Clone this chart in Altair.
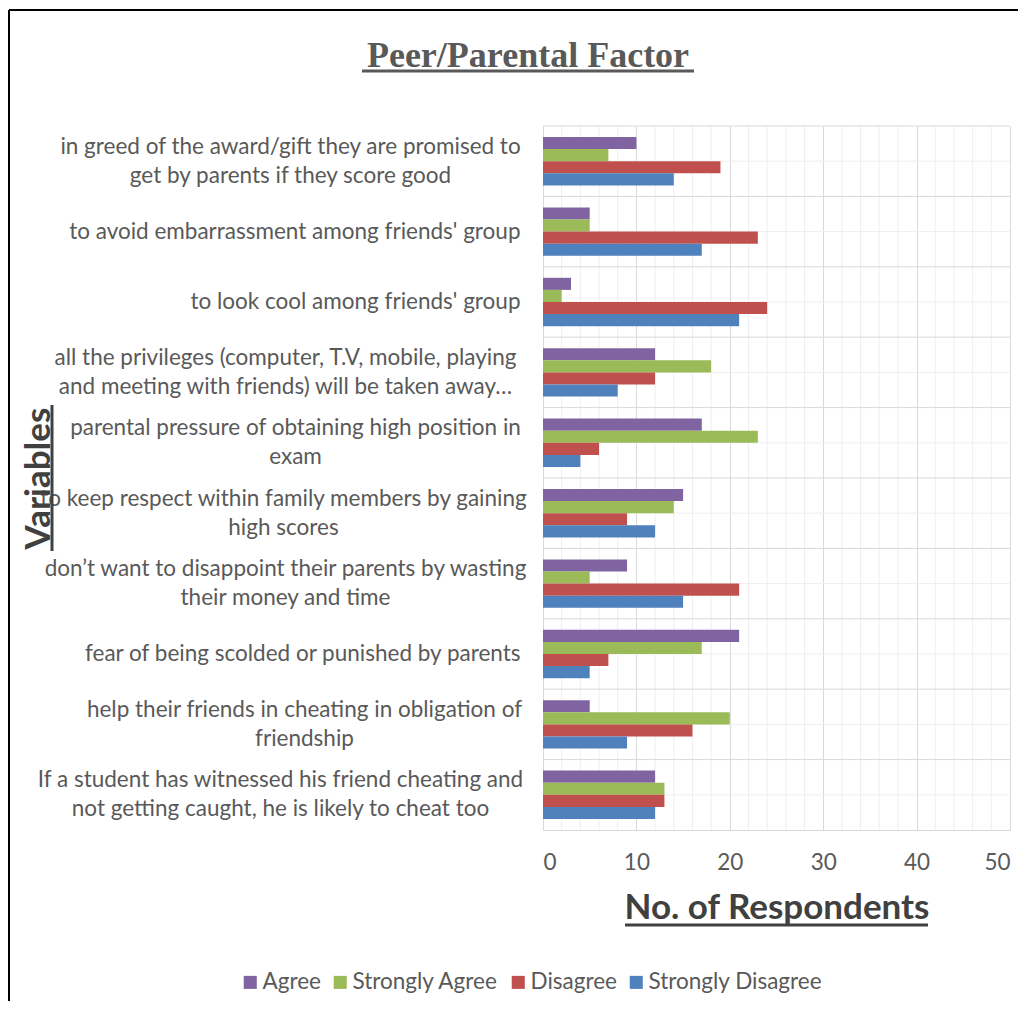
import altair as alt
import pandas as pd

categories = [
    "in greed of the award/gift they are promised to|get by parents if they score good",
    "to avoid embarrassment among friends' group",
    "to look cool among friends' group",
    "all the privileges (computer, T.V, mobile, playing|and meeting with friends) will be taken away…",
    "parental pressure of obtaining high position in|exam",
    "to keep respect within family members by gaining|high scores",
    "don’t want to disappoint their parents by wasting|their money  and time",
    "fear of being scolded or punished by parents",
    "help their friends in cheating in obligation of|friendship",
    "If a student has witnessed his friend cheating and|not getting caught, he is likely to cheat too",
]
series = ["Agree", "Strongly Agree", "Disagree", "Strongly Disagree"]
agree = [10, 5, 3, 12, 17, 15, 9, 21, 5, 12]
strongly_agree = [7, 5, 2, 18, 23, 14, 5, 17, 20, 13]
disagree = [19, 23, 24, 12, 6, 9, 21, 7, 16, 13]
strongly_disagree = [14, 17, 21, 8, 4, 12, 15, 5, 9, 12]
colors = ["#8064A2", "#9BBB59", "#C0504D", "#4F81BD"]
x_ticks = [0, 10, 20, 30, 40, 50]
minor_ticks = [2, 4, 6, 8, 12, 14, 16, 18, 22, 24, 26, 28, 32, 34, 36, 38, 42, 44, 46, 48]

rows = []
for i, c in enumerate(categories):
    for s, vals in zip(series, [agree, strongly_agree, disagree, strongly_disagree]):
        rows.append({"category": c, "series": s, "value": vals[i]})
df = pd.DataFrame(rows)
cat_df = pd.DataFrame({"category": categories})
minor_df = pd.DataFrame({"v": minor_ticks})
one_df = pd.DataFrame({"k": [0]})

FONT = "Lato"
LABEL_SIZE = 22.5
LABEL_COLOR = "#595959"
TITLE_COLOR = "#404040"
MULTI = "indexof(datum.value, '|') >= 0"

# horizontal offsets for the centred two-line labels
pad_conditions = [
    {"test": f"datum.value === {c!r}", "value": p}
    for c, p in zip(
        [categories[0], categories[3], categories[4], categories[5], categories[6], categories[8], categories[9]],
        [253, 258, 248, 260, 258, 239, 263],
    )
]

y_scale = alt.Scale(domain=categories, paddingInner=0, paddingOuter=0)
x_scale = alt.Scale(domain=[0, 50], nice=False, zero=True)

y_axis = alt.Axis(
    title="Variables",
    titleFont=FONT, titleFontSize=35, titleFontWeight="bold", titleColor=TITLE_COLOR,
    titleAngle=270, titleX=-494, titleY=352, titleAlign="center", titleBaseline="alphabetic",
    labelExpr="split(datum.label, '|')",
    labelFont=FONT, labelFontSize=LABEL_SIZE, labelColor=LABEL_COLOR, labelLineHeight=29,
    labelBaseline="middle", labelLimit=700,
    labelAlign={"condition": {"test": MULTI, "value": "center"}, "value": "right"},
    labelPadding={"condition": pad_conditions, "value": 23},
    labelOffset={"condition": {"test": MULTI, "value": -14.5}, "value": 0},
    ticks=False, grid=False, domain=True, domainColor="#d9d9d9",
)
x_axis = alt.Axis(
    values=x_ticks, title="No. of Respondents",
    titleFont=FONT, titleFontSize=35, titleFontWeight="bold", titleColor=TITLE_COLOR,
    titleX=233.5, titleY=88, titleAlign="center", titleBaseline="alphabetic",
    labelFont=FONT, labelFontSize=LABEL_SIZE, labelColor=LABEL_COLOR, labelPadding=21,
    ticks=False, tickSize=0, grid=True, gridColor="#d9d9d9", domain=True, domainColor="#d9d9d9",
)

minor_v = alt.Chart(minor_df).mark_rule(color="#efefef", strokeWidth=1).encode(
    x=alt.X("v:Q", scale=x_scale, axis=x_axis)
)
minor_h = alt.Chart(cat_df).mark_rule(color="#efefef", strokeWidth=1).encode(
    y=alt.Y("category:N", scale=y_scale, axis=y_axis, sort=categories)
)
major_h = alt.Chart(cat_df).mark_rule(color="#d9d9d9", strokeWidth=1).encode(
    y=alt.Y("category:N", scale=y_scale, sort=categories, bandPosition=0)
)

bars = alt.Chart(df).mark_bar().encode(
    y=alt.Y("category:N", scale=y_scale, sort=categories),
    yOffset=alt.YOffset("series:N", sort=series, scale=alt.Scale(domain=series, paddingInner=0, paddingOuter=0.91)),
    x=alt.X("value:Q", scale=x_scale),
    color=alt.Color(
        "series:N",
        scale=alt.Scale(domain=series, range=colors),
        legend=alt.Legend(
            title=None, orient="none", legendX=-304, legendY=845, direction="horizontal",
            symbolType="square", symbolSize=170, symbolStrokeWidth=0,
            labelFont=FONT, labelFontSize=LABEL_SIZE, labelColor=LABEL_COLOR, labelLimit=400,
            columnPadding=8, labelOffset=1,
        ),
    ),
)


def deco(x1, x2, y1, y2, color, w):
    return alt.Chart(one_df).mark_rule(color=color, strokeWidth=w).encode(
        x=alt.value(x1), x2=alt.value(x2), y=alt.value(y1), y2=alt.value(y2)
    )


title_text = alt.Chart(one_df).mark_text(
    text="Peer/Parental Factor", font="Liberation Serif", fontSize=36, fontWeight="bold",
    color="#595959", align="center", baseline="alphabetic",
).encode(x=alt.value(-15), y=alt.value(-59))

decorations = [
    deco(-181, 151, -55, -55, "#595959", 3),      # title underline
    deco(82, 385, 799, 799, TITLE_COLOR, 3),       # x title underline
    deco(-491, -491, 279, 425, TITLE_COLOR, 3),    # y title underline
    deco(-534, 475, -116, -116, "#000000", 2),     # outer border top
    deco(-534, -534, -116, 875, "#000000", 2),     # outer border left
]

chart = alt.layer(
    minor_v, minor_h, major_h, bars, title_text, *decorations
).properties(
    width=467, height=704,
    autosize=alt.AutoSizeParams(type="none"),
    padding={"left": 535, "top": 118, "right": 16, "bottom": 179},
).configure_view(stroke=None)

chart.save("out.html", embed_options={"renderer": "svg", "actions": False})
